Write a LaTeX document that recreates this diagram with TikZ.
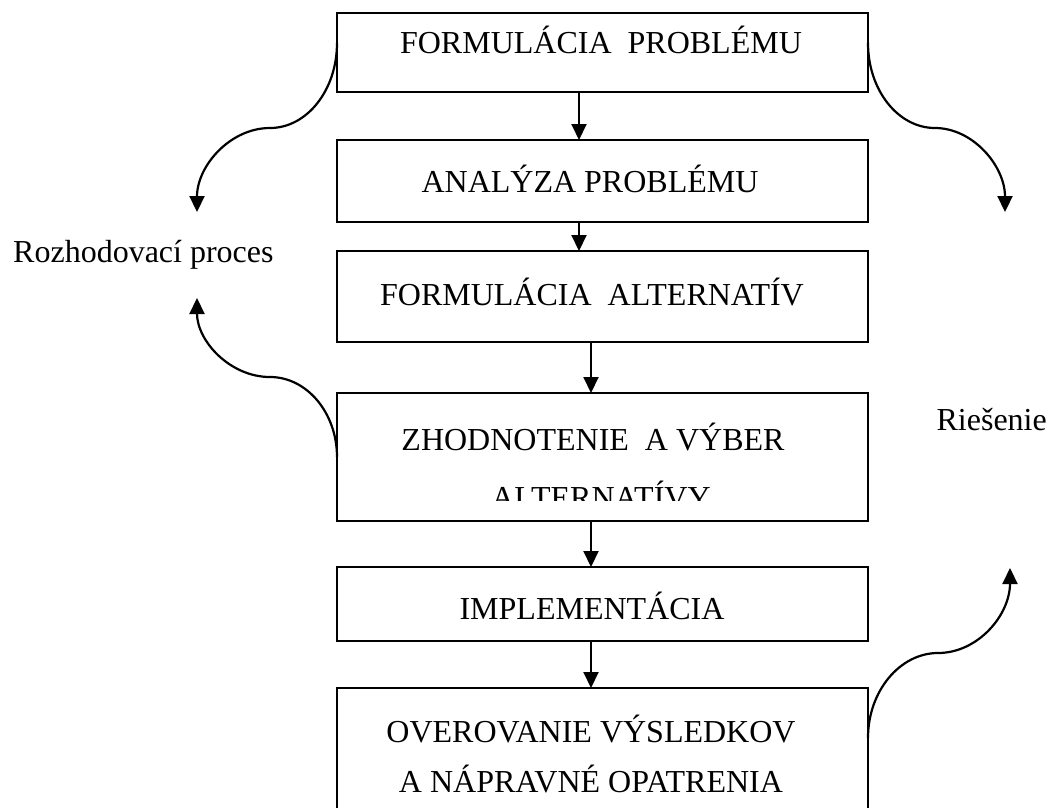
\documentclass[tikz,border=0pt]{standalone}
\usepackage{fontspec}
\setmainfont{Liberation Serif}
\usepackage{tikz}
\usetikzlibrary{arrows.meta,positioning}
\tikzset{
	stage/.style={
		draw, rectangle, line width=2pt,
		minimum width=531pt, inner sep=0pt, outer sep=0pt
	},
	stage_text/.style={
		anchor=base, inner sep=0pt, text=black,
		font=\fontsize{32}{38}\selectfont
	},
	flow_arrow/.style={-{Triangle[length=16pt,width=15pt]}, line width=2pt},
	side_arrow/.style={-{Triangle[length=16pt,width=15pt]}, line width=2.2pt}
}

\begin{document}
\begin{tikzpicture}[x=1pt,y=-1pt]
  \useasboundingbox (0,0) rectangle (1053,807);
  \clip (0,0) rectangle (1053,807);
  % boxes
  \node[stage,minimum height=79pt] (b1) at (602.5,52.5) {};
  \node[stage,minimum height=82pt,below=48pt of b1] (b2) {};
  \node[stage,minimum height=91pt,below=29pt of b2] (b3) {};
  \node[stage,minimum height=128pt,below=51pt of b3] (b4) {};
  \node[stage,minimum height=74pt,below=46pt of b4] (b5) {};
  \node[stage,minimum height=142pt,below=47pt of b5] (b6) {};
  % texts
  \node[stage_text] (t1) at (601,53) {FORMULÁCIA\ \ PROBLÉMU};
  \node[stage_text] (t2) at (590,192) {ANALÝZA PROBLÉMU};
  \node[stage_text] (t3) at (592,305) {FORMULÁCIA\ \ ALTERNATÍV};
  \node[stage_text] (t4a) at (593,450) {ZHODNOTENIE\ \ A VÝBER};
  \begin{scope}
    \clip (b4.north west) rectangle ([yshift=21pt]b4.south east);
    \node[stage_text] (t4b) at (601,508) {ALTERNATÍVY};
  \end{scope}
  \node[stage_text] (t5) at (592,619) {IMPLEMENTÁCIA};
  \node[stage_text] (t6a) at (591,742) {OVEROVANIE VÝSLEDKOV};
  \node[stage_text] (t6b) at (591,792) {A NÁPRAVNÉ OPATRENIA};
  \node[stage_text,anchor=base west] (proc) at (13,262) {Rozhodovací proces};
  \node[stage_text,anchor=base east] (ries) at (1047,430) {Riešenie};
  % arrows between boxes
  \draw[flow_arrow] ([xshift=-23.5pt]b1.south) -- ([xshift=-23.5pt]b2.north);
  \draw[flow_arrow] ([xshift=-23.5pt]b2.south) -- ([xshift=-23.5pt]b3.north);
  \draw[flow_arrow] ([xshift=-11.5pt]b3.south) -- ([xshift=-11.5pt]b4.north);
  \draw[flow_arrow] ([xshift=-11.5pt]b4.south) -- ([xshift=-11.5pt]b5.north);
  \draw[flow_arrow] ([xshift=-11.5pt]b5.south) -- ([xshift=-11.5pt]b6.north);
  % side arrows
  \coordinate (midL1) at (270,128);
  \coordinate (tipL1) at (197,212);
  \coordinate (midL2) at (270,377);
  \coordinate (tipL2) at (197,298);
  \coordinate (midR1) at (935,128);
  \coordinate (tipR1) at (1005,212);
  \coordinate (midR2) at (938,653);
  \coordinate (tipR2) at (1010,568);
  \draw[side_arrow] ([yshift=9.5pt]b1.west) .. controls +(0,47) and +(37,0) .. (midL1)
    .. controls +(-40,0) and +(0,-46) .. (tipL1);
  \draw[side_arrow] (b4.west) .. controls +(0,-44) and +(37,0) .. (midL2)
    .. controls +(-40,0) and +(0,43) .. (tipL2);
  \draw[side_arrow] ([yshift=9.5pt]b1.east) .. controls +(0,47) and +(-37,0) .. (midR1)
    .. controls +(38,0) and +(0,-46) .. (tipR1);
  \draw[side_arrow] (b6.east |- 0,738) .. controls +(0,-47) and +(-38,0) .. (midR2)
    .. controls +(40,0) and +(0,47) .. (tipR2);
\end{tikzpicture}
\end{document}
